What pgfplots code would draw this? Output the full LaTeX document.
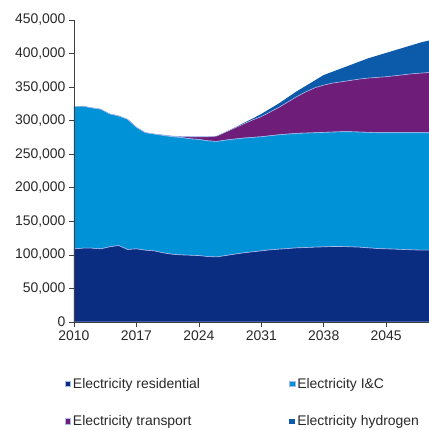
\documentclass[border=0pt]{standalone}
\usepackage{pgfplots}
\usepackage{pgfplotstable}
\usepackage{fontspec}
\setmainfont{Liberation Sans}
\pgfplotsset{compat=1.18}
\definecolor{cres}{RGB}{10,45,130}
\definecolor{cic}{RGB}{0,146,214}
\definecolor{ctr}{RGB}{110,30,120}
\definecolor{chy}{RGB}{12,90,170}
\definecolor{csep}{RGB}{165,185,235}
\definecolor{ctxt}{RGB}{40,40,40}
\pgfplotstableread{
year res ic tr hy
2010 109000 212000 0 0
2011 110000 211500 0 0
2012 110000 209000 0 0
2013 109000 208000 0 0
2014 112000 198000 0 0
2015 114000 193000 0 0
2016 108000 194000 0 0
2017 109000 181000 0 0
2018 107000 175000 0 0
2019 106000 174000 0 0
2020 103000 175000 500 0
2021 101000 175000 1000 0
2022 100000 175000 1500 0
2023 99500 173500 3000 0
2024 99000 173000 4000 0
2025 97500 172500 6000 0
2026 97000 172000 8000 0
2027 99000 172000 12000 0
2028 101000 171500 16500 500
2029 103000 171000 21000 1500
2030 104500 170500 26000 2000
2031 106000 170000 30000 4000
2032 107500 170000 35500 5000
2033 108500 170500 41000 6000
2034 109500 170500 48000 7000
2035 110500 170500 55000 8000
2036 111000 170500 61500 9000
2037 111500 170500 67000 11000
2038 112000 170500 70500 15000
2039 112500 170500 73000 17000
2040 112500 171000 74500 20000
2041 112000 171500 76500 23000
2042 111500 171500 79000 26000
2043 110500 172000 81000 29500
2044 109500 172500 82500 32500
2045 109000 173000 83500 35500
2046 108500 173500 85000 38000
2047 108000 174000 86500 40500
2048 107500 174500 88000 43000
2049 107000 175000 89000 46000
2050 107000 175000 90000 48000
}\data
\begin{document}
\begin{tikzpicture}
\begin{axis}[
  at={(0,0)}, anchor=south west,
  scale only axis, width=355bp, height=302bp,
  xmin=2010, xmax=2049.8, ymin=0, ymax=450000,
  stack plots=y, axis on top,
  axis lines*=left,
  axis line style={black!75, line width=0.6pt},
  xtick={2010,2017,2024,2031,2038,2045},
  ytick={0,50000,100000,150000,200000,250000,300000,350000,400000,450000},
  scaled y ticks=false,
  tick align=outside, major tick length=5bp,
  tick style={black!75, line width=0.6pt},
  ticklabel style={font=\fontsize{14}{16}\selectfont, text=ctxt},
  xticklabel={\pgfmathprintnumber[fixed,1000 sep={},assume math mode=true]{\tick}},
  yticklabel={\pgfmathprintnumber[fixed,precision=0,1000 sep={,},assume math mode=true]{\tick}},
  legend columns=2,
  legend cell align=left,
  legend image code/.code={\fill[#1] (0bp,-2.8bp) rectangle (5.6bp,2.8bp);},
  legend style={draw=none, fill=none, font=\fontsize{14}{16}\selectfont, text=ctxt,
    at={(axis description cs:-0.035,-0.172)}, anchor=north west,
    row sep=22bp,
    /tikz/every even column/.append style={column sep=87bp}},
]
\addplot[fill=cres, draw=csep, line width=0.6pt] table[x=year,y=res] {\data} \closedcycle;
\addplot[fill=cic, draw=csep, line width=0.6pt] table[x=year,y=ic] {\data} \closedcycle;
\addplot[fill=ctr, draw=csep, line width=0.6pt] table[x=year,y=tr] {\data} \closedcycle;
\addplot[fill=chy, draw=none] table[x=year,y=hy] {\data} \closedcycle;
\legend{Electricity residential, Electricity I\&C, Electricity transport, Electricity hydrogen}
\end{axis}
\pgfresetboundingbox
\path (-74bp,-108bp) rectangle (355bp,322bp);
\end{tikzpicture}
\end{document}
